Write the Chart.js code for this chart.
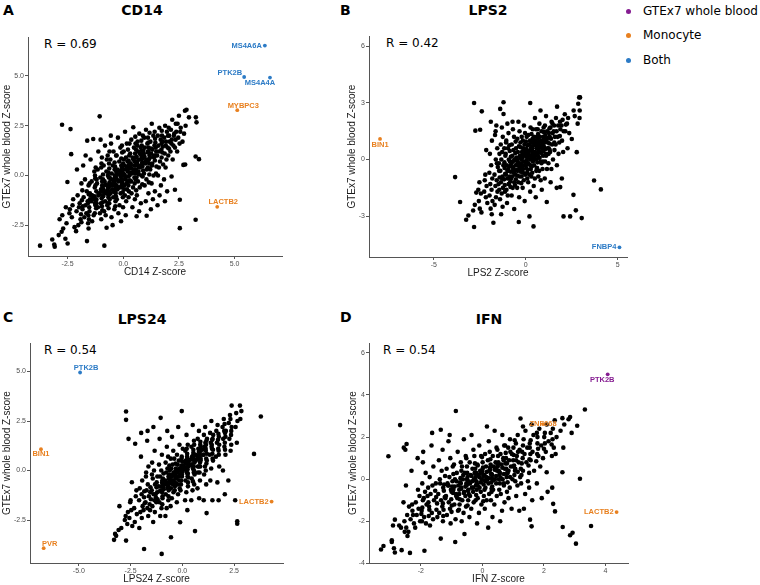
<!DOCTYPE html>
<html>
<head>
<meta charset="utf-8">
<script src="https://cdn.jsdelivr.net/npm/chart.js@4.4.1/dist/chart.umd.min.js"></script>
<style>
body { margin: 0; width: 760px; height: 585px; background: #fff; position: relative; overflow: hidden; }
canvas { position: absolute; }
.txt { position: absolute; white-space: nowrap; line-height: 1; font-family: "DejaVu Sans", sans-serif; color: #000; }
.letter, .title { font-size: 14px; font-weight: bold; }
.title { transform: translateX(-50%); }
.rval, .leg { font-size: 12px; }
.dot { position: absolute; width: 5px; height: 5px; border-radius: 50%; }
</style>
</head>
<body>

<div class="txt letter" style="left:3px;top:3px">A</div>
<div class="txt title" style="left:142px;top:3px">CD14</div>
<div class="txt rval" style="left:44px;top:38px">R = 0.69</div>

<div class="txt letter" style="left:340px;top:3px">B</div>
<div class="txt title" style="left:488px;top:3px">LPS2</div>
<div class="txt rval" style="left:386px;top:37px">R = 0.42</div>

<div class="txt letter" style="left:3px;top:310px">C</div>
<div class="txt title" style="left:142px;top:312px">LPS24</div>
<div class="txt rval" style="left:44px;top:344px">R = 0.54</div>

<div class="txt letter" style="left:340px;top:310px">D</div>
<div class="txt title" style="left:489px;top:312px">IFN</div>
<div class="txt rval" style="left:383px;top:344px">R = 0.54</div>

<div id="legend"></div>

<canvas id="cd14"></canvas>
<canvas id="lps2"></canvas>
<canvas id="lps24"></canvas>
<canvas id="ifn"></canvas>

<script>
// ---- data ----
const groups = ['GTEx7 whole blood', 'Monocyte', 'Both'];

const cd14XTicks = [-2.5, 0, 2.5, 5];
const cd14YTicks = [-2.5, 0, 2.5, 5];
const lps2XTicks = [-5, 0, 5];
const lps2YTicks = [-3, 0, 3, 6];
const lps24XTicks = [-5, -2.5, 0, 2.5];
const lps24YTicks = [-2.5, 0, 2.5, 5];
const ifnXTicks = [-2, 0, 2, 4];
const ifnYTicks = [-4, -2, 0, 2, 4, 6];

const cd14Genes = ['MS4A6A', 'PTK2B', 'MS4A4A', 'MYBPC3', 'LACTB2'];
const cd14GeneX = [6.36, 5.43, 6.59, 5.12, 4.22];
const cd14GeneY = [6.53, 4.95, 4.92, 3.28, -1.58];
const cd14GeneGroup = ['Both', 'Both', 'Both', 'Monocyte', 'Monocyte'];

const lps2Genes = ['BIN1', 'FNBP4'];
const lps2GeneX = [-7.92, 5.09];
const lps2GeneY = [1.09, -4.65];
const lps2GeneGroup = ['Monocyte', 'Both'];

const lps24Genes = ['PTK2B', 'BIN1', 'PVR', 'LACTB2'];
const lps24GeneX = [-4.94, -6.83, -6.7, 4.31];
const lps24GeneY = [4.95, 1.08, -3.92, -1.57];
const lps24GeneGroup = ['Both', 'Monocyte', 'Monocyte', 'Monocyte'];

const ifnGenes = ['PTK2B', 'ZNF668', 'LACTB2'];
const ifnGeneX = [4.07, 1.97, 4.36];
const ifnGeneY = [4.98, 2.62, -1.56];
const ifnGeneGroup = ['GTEx7 whole blood', 'Monocyte', 'Monocyte'];

const cd14Points = [
[-3.74,-3.53],[-3.19,-3.22],[-3.1,-3.47],[-3.08,-3.58],
[-2.77,-2.83],[-2.7,-2.67],[-2.86,-2.2],[-2.74,-2.0],[-2.9,-3.0],
[-2.6,-3.18],[-2.5,-3.42],[-2.55,-2.4],[-2.42,-1.9],[-2.58,-1.6],[-2.51,-0.33],[-2.75,2.55],
[-2.37,2.33],[-2.34,1.07],[-2.25,-1.2],[-2.31,-2.1],[-2.19,-2.6],[-2.4,-1.7],[-2.28,-1.5],
[-2.05,-1.0],[-1.96,-1.4],[-2.1,-1.8],[-1.92,-2.2],[-2.02,-2.5],[-1.88,-0.4],[-2.08,0.3],[-1.99,-1.6],[-2.12,-2.8],
[-1.72,-0.2],[-1.64,-0.8],[-1.78,-1.1],[-1.6,-1.3],[-1.7,-1.5],[-1.83,-1.7],[-1.66,-1.9],[-1.75,-2.1],[-1.58,-2.4],[-1.63,-3.3],[-1.8,0.5],[-1.69,1.0],[-1.62,1.75],[-1.56,-0.5],
[-1.35,1.83],[-1.47,0.8],[-1.3,0.2],[-1.42,-0.3],[-1.28,-0.6],[-1.5,-0.9],[-1.37,-1.1],[-1.44,-1.3],[-1.25,-1.5],[-1.52,-1.8],[-1.33,-2.0],[-1.4,-2.3],[-1.56,-2.67],[-1.27,0.0],[-1.46,-1.0],
[-1.06,2.97],[-1.12,1.2],[-0.98,0.6],[-1.15,0.3],[-1.03,-0.1],[-1.18,-0.4],[-0.96,-0.7],[-1.09,-0.9],[-1.21,-1.2],[-1.0,-1.4],[-1.14,-1.6],[-1.05,-1.9],[-0.99,-2.2],[-1.2,-0.2],[-0.95,-0.5],[-1.11,-1.0],[-1.02,1.8],
[-0.85,-3.53],[-0.75,-2.63],[-0.82,1.5],[-0.7,1.0],[-0.88,0.5],[-0.76,0.2],[-0.69,0.0],[-0.84,-0.3],[-0.73,-0.5],[-0.9,-0.7],[-0.78,-0.9],[-0.67,-1.1],[-0.81,-1.3],[-0.72,-1.5],[-0.86,-1.8],[-0.79,-2.0],[-0.66,-0.6],[-0.91,-0.2],[-0.74,0.8],
[-0.55,1.6],[-0.44,1.2],[-0.58,0.8],[-0.47,0.5],[-0.39,0.3],[-0.52,0.1],[-0.61,-0.1],[-0.42,-0.3],[-0.5,-0.5],[-0.36,-0.7],[-0.57,-0.9],[-0.45,-1.1],[-0.63,-1.4],[-0.4,-1.7],[-0.53,-2.1],[-0.48,-2.5],[-0.38,0.0],[-0.6,-0.4],[-0.43,-0.8],[-0.56,2.0],
[-0.24,1.9],[-0.13,1.4],[-0.3,1.0],[-0.18,0.7],[-0.09,0.5],[-0.27,0.3],[-0.15,0.1],[-0.33,-0.1],[-0.21,-0.3],[-0.08,-0.5],[-0.26,-0.7],[-0.12,-0.9],[-0.29,-1.2],[-0.17,-1.5],[-0.22,-1.9],[-0.1,-2.3],[-0.31,0.2],[-0.06,-0.2],[-0.19,-0.6],
[0.08,2.2],[0.16,1.6],[0.02,1.2],[0.12,0.9],[0.19,0.7],[0.05,0.5],[0.14,0.3],[0.0,0.1],[0.1,-0.1],[0.21,-0.3],[0.04,-0.5],[0.17,-0.7],[0.07,-1.0],[0.13,-1.3],[-0.01,-1.6],[0.11,-2.0],[0.23,0.4],[0.06,0.0],[0.15,-0.4],[0.03,0.8],
[0.45,2.42],[0.36,1.8],[0.48,1.4],[0.31,1.1],[0.42,0.9],[0.53,0.7],[0.34,0.5],[0.46,0.3],[0.39,0.1],[0.5,-0.1],[0.29,-0.3],[0.44,-0.6],[0.37,-0.9],[0.52,-1.2],[0.41,-1.6],[0.6,-2.05],[0.33,0.6],[0.49,0.2],[0.55,-0.2],
[0.72,2.1],[0.64,1.7],[0.78,1.4],[0.67,1.2],[0.81,1.0],[0.7,0.8],[0.62,0.6],[0.75,0.4],[0.68,0.2],[0.83,0.0],[0.66,-0.3],[0.74,-0.6],[0.61,-1.0],[0.79,-1.4],[0.71,-1.8],[0.85,0.9],[0.77,0.5],[0.63,1.5],
[1.02,2.3],[0.94,1.9],[1.08,1.6],[0.97,1.4],[1.12,1.2],[0.91,1.0],[1.05,0.8],[0.99,0.6],[1.1,0.4],[0.93,0.1],[1.04,-0.2],[0.96,-0.5],[1.13,-0.9],[1.01,-1.3],[1.05,-2.03],[0.92,1.1],[1.09,0.7],
[1.28,2.6],[1.35,2.0],[1.22,1.7],[1.4,1.5],[1.31,1.3],[1.25,1.1],[1.38,0.9],[1.3,0.6],[1.21,0.3],[1.36,0.0],[1.27,-0.4],[1.42,-0.8],[1.33,-1.2],[1.24,-1.7],[1.39,1.0],[1.29,0.5],
[1.62,2.4],[1.55,2.0],[1.68,1.8],[1.58,1.5],[1.71,1.3],[1.52,1.0],[1.65,0.7],[1.6,0.4],[1.56,0.0],[1.69,-0.5],[1.63,-1.0],[1.54,-1.5],[1.72,1.6],[1.59,1.2],
[1.88,2.5],[1.96,2.2],[1.84,1.9],[1.92,1.7],[1.99,1.4],[1.86,1.1],[1.94,0.8],[1.9,0.4],[1.83,-0.2],[1.97,-0.8],[1.87,-1.3],[2.01,2.0],[1.91,1.5],
[2.2,2.8],[2.14,2.3],[2.27,2.0],[2.18,1.8],[2.25,1.5],[2.12,1.2],[2.22,0.8],[2.17,-0.05],[2.32,-0.72],[2.29,2.1],[2.16,1.6],
[2.5,3.0],[2.44,2.6],[2.56,2.2],[2.47,1.9],[2.53,1.6],[2.42,1.2],[2.7,0.53],[2.54,-1.22],[2.54,-2.65],[2.58,2.4],
[2.77,3.25],[2.84,3.3],[2.95,2.92],[2.8,2.5],[2.73,2.1],[2.66,1.7],[2.78,0.55],
[3.26,2.92],[3.29,2.67],[3.4,0.82],[3.25,0.95],[3.25,-2.23]
];
// extra points filling the dense core of the CD14 cloud
const cd14CorePoints = [
[-1.86,-1.25],[-1.82,-1.55],[-1.9,-1.95],[-1.84,-0.75],[-1.88,-2.35],
[-1.55,-0.95],[-1.5,-1.2],[-1.59,-1.4],[-1.53,-1.6],[-1.57,-2.0],[-1.51,-0.4],[-1.54,-2.2],
[-1.25,-0.5],[-1.21,-0.8],[-1.29,-1.05],[-1.23,-1.25],[-1.27,-1.4],[-1.22,-1.65],[-1.26,-0.15],[-1.24,0.4],[-1.28,-1.9],
[-0.95,-0.3],[-0.92,-0.55],[-0.98,-0.8],[-0.94,-1.0],[-0.97,-1.15],[-0.93,-1.35],[-0.96,-1.55],[-0.91,0.05],[-0.99,0.4],[-0.94,-1.75],[-0.96,0.9],
[-0.65,-0.1],[-0.62,-0.35],[-0.68,-0.6],[-0.64,-0.8],[-0.66,-1.0],[-0.61,-1.2],[-0.67,0.15],[-0.63,0.35],[-0.69,-1.4],[-0.64,0.6],[-0.66,-1.65],[-0.62,1.2],
[-0.35,0.0],[-0.32,-0.2],[-0.38,-0.4],[-0.34,-0.6],[-0.36,-0.85],[-0.31,0.2],[-0.37,0.45],[-0.33,-1.05],[-0.39,0.65],[-0.35,-1.3],[-0.32,1.0],[-0.36,-1.55],
[-0.05,0.2],[-0.02,0.0],[-0.08,-0.2],[-0.04,-0.4],[-0.06,0.4],[-0.01,0.6],[-0.07,-0.6],[-0.03,-0.85],[-0.09,0.85],[-0.05,1.15],[-0.02,-1.1],[-0.06,1.5],
[0.25,0.35],[0.28,0.15],[0.22,-0.05],[0.26,0.55],[0.24,0.75],[0.29,-0.25],[0.23,-0.5],[0.27,1.0],[0.21,1.3],[0.25,-0.8],[0.28,1.6],[0.24,-1.1],
[0.55,0.5],[0.58,0.3],[0.52,0.7],[0.56,0.9],[0.54,0.1],[0.59,-0.1],[0.53,1.1],[0.57,1.3],[0.51,-0.4],[0.55,1.6],[0.58,-0.75],[0.54,1.95],
[0.85,0.65],[0.88,0.85],[0.82,1.05],[0.86,0.45],[0.84,1.25],[0.89,0.25],[0.83,1.5],[0.87,-0.05],[0.81,1.75],[0.85,-0.45],[0.88,2.0],
[1.15,0.8],[1.18,1.0],[1.12,1.2],[1.16,0.6],[1.14,1.4],[1.19,0.35],[1.13,1.65],[1.17,0.05],[1.11,1.9],[1.15,-0.35],[1.18,2.15],
[1.45,1.0],[1.48,1.2],[1.42,0.75],[1.46,1.4],[1.44,1.65],[1.49,0.45],[1.43,1.85],[1.47,0.1],[1.41,2.2],
[1.75,1.15],[1.78,1.45],[1.72,0.9],[1.76,1.7],[1.74,2.0],[1.79,0.55],[1.73,2.25],
[2.05,1.35],[2.08,1.7],[2.02,1.0],[2.06,2.0],[2.04,2.4],
[2.35,1.8],[2.38,2.2],[2.32,1.4],[2.36,2.6]
];
// the solid black centre of the CD14 cloud
const cd14DensePoints = [
[-1.1,-0.95],[-1.0,-0.7],[-0.9,-1.05],[-0.85,-0.85],[-0.8,-0.45],[-0.72,-0.75],[-0.6,-0.5],[-0.55,-0.2],[-0.5,-0.7],[-0.45,-0.45],
[-0.4,-0.15],[-0.3,-0.5],[-0.28,0.05],[-0.22,-0.25],[-0.15,0.25],[-0.12,-0.05],[-0.05,-0.35],[0.0,0.3],[0.05,0.05],[0.1,-0.2],
[0.15,0.45],[0.2,0.2],[0.28,0.0],[0.32,0.6],[0.36,0.35],[0.4,0.15],[0.45,0.8],[0.5,0.5],[0.55,0.25],[0.6,0.95],
[0.63,0.7],[0.7,0.45],[0.75,1.1],[0.8,0.8],[0.85,0.55],[0.9,1.25],[0.95,0.95],[1.0,0.7],[1.1,1.15],[1.2,0.9],
[1.25,1.35],[-1.3,-1.2],[-1.4,-1.0],[-1.2,-1.4],[-0.65,-0.95],[-0.35,-0.9],[0.05,-0.7],[0.35,-0.3],[0.7,0.05],[1.05,0.3]
];

const lps2Points = [
[-3.84,-0.93],[-3.57,-2.25],[-3.24,-3.19],[-3.12,-2.96],
[-2.81,-3.57],[-2.81,2.99],[-2.74,1.53],[-2.86,-2.7],[-2.77,-2.4],[-2.69,-1.75],
[-2.39,2.55],[-2.48,1.58],[-2.55,-2.2],[-2.44,-1.8],[-2.58,-1.6],[-2.5,-2.6],[-2.41,-2.8],[-2.52,-1.2],
[-2.2,-0.8],[-2.13,-1.4],[-2.26,-1.7],[-2.17,-2.0],[-2.09,-2.3],[-2.23,-1.1],[-2.15,0.5],
[-1.9,2.0],[-1.84,1.0],[-1.95,0.3],[-1.88,-0.3],[-1.98,-0.7],[-1.82,-1.0],[-1.93,-1.3],[-1.86,-1.6],[-1.97,-1.9],[-1.81,-2.2],[-1.91,-2.6],[-1.85,-2.9],
[-1.6,1.8],[-1.67,1.3],[-1.55,0.6],[-1.63,0.0],[-1.52,-0.4],[-1.7,-0.8],[-1.58,-1.1],[-1.65,-1.4],[-1.54,-1.7],[-1.62,-2.0],[-1.69,-2.4],[-1.76,-3.35],[-1.57,-0.2],[-1.64,1.5],
[-1.21,3.03],[-1.39,2.68],[-1.21,2.41],[-1.3,1.7],[-1.25,1.2],[-1.36,0.8],[-1.28,0.4],[-1.33,0.0],[-1.22,-0.3],[-1.38,-0.6],[-1.27,-0.9],[-1.35,-1.2],[-1.24,-1.5],[-1.31,-1.8],[-1.4,-2.1],[-1.26,-2.5],[-1.34,-2.9],[-1.29,-1.0],
[-1.0,1.9],[-0.94,1.4],[-1.06,1.0],[-0.97,0.6],[-1.09,0.3],[-0.92,0.0],[-1.03,-0.3],[-0.96,-0.6],[-1.08,-0.8],[-0.99,-1.0],[-0.93,-1.3],[-1.05,-1.6],[-0.98,-1.9],[-1.02,-2.3],[-0.95,-0.5],[-1.07,0.9],
[-0.7,1.6],[-0.64,1.2],[-0.76,0.8],[-0.67,0.5],[-0.73,0.2],[-0.62,0.0],[-0.78,-0.2],[-0.69,-0.5],[-0.66,-0.7],[-0.75,-0.9],[-0.63,-1.2],[-0.71,-1.5],[-0.77,-1.9],[-0.63,-2.62],[-0.68,-0.4],[-0.72,2.0],
[-0.4,2.0],[-0.34,1.5],[-0.46,1.1],[-0.37,0.7],[-0.43,0.4],[-0.32,0.2],[-0.48,0.0],[-0.39,-0.2],[-0.35,-0.4],[-0.45,-0.6],[-0.33,-0.9],[-0.41,-1.2],[-0.47,-1.5],[-0.36,-2.0],[-0.38,-3.31],[-0.44,-0.1],
[-0.1,1.8],[-0.04,1.4],[-0.16,1.0],[-0.07,0.8],[-0.13,0.5],[-0.02,0.3],[-0.18,0.1],[-0.09,-0.1],[-0.05,-0.3],[-0.15,-0.5],[-0.03,-0.8],[-0.11,-1.1],[-0.17,-1.5],[-0.06,-2.2],[-0.12,0.6],
[0.24,2.99],[0.26,1.7],[0.14,1.3],[0.23,1.0],[0.17,0.8],[0.28,0.6],[0.12,0.4],[0.21,0.2],[0.25,0.0],[0.15,-0.2],[0.27,-0.5],[0.19,-0.8],[0.13,-1.2],[0.24,-1.7],[0.2,-3.01],[0.16,0.3],
[0.5,2.2],[0.56,1.6],[0.44,1.2],[0.53,1.0],[0.47,0.8],[0.58,0.6],[0.42,0.4],[0.51,0.2],[0.55,0.0],[0.45,-0.3],[0.57,-0.6],[0.49,-1.0],[0.43,-1.4],[0.54,-2.0],[0.42,-3.54],[0.46,0.9],
[0.8,2.6],[0.74,1.9],[0.86,1.5],[0.77,1.2],[0.83,1.0],[0.72,0.8],[0.88,0.6],[0.79,0.4],[0.75,0.1],[0.85,-0.2],[0.73,-0.6],[0.81,-1.1],[0.87,-1.6],[0.76,0.7],
[1.1,2.3],[1.04,1.8],[1.16,1.5],[1.07,1.3],[1.13,1.1],[1.02,0.9],[1.18,0.6],[1.09,0.3],[1.05,-0.1],[1.15,-0.5],[1.03,-1.0],[1.14,-2.25],[1.11,1.0],
[1.4,2.0],[1.34,1.7],[1.46,1.4],[1.37,1.1],[1.43,0.8],[1.32,0.4],[1.48,0.0],[1.39,-0.5],[1.35,-1.2],[1.45,1.9],
[1.7,2.8],[1.64,2.2],[1.76,1.8],[1.67,1.5],[1.73,1.2],[1.62,0.8],[1.78,0.3],[1.69,-0.3],[1.68,-1.5],[1.87,-1.46],
[2.0,2.1],[1.94,1.8],[2.06,1.5],[1.97,1.0],[2.03,0.4],[2.05,-3.01],[1.96,-1.0],
[2.3,2.2],[2.24,1.9],[2.36,1.4],[2.27,0.6],[2.41,-3.01],
[2.6,2.6],[2.66,2.3],[2.5,1.09],[2.77,0.39],[2.59,-1.87],[2.72,-2.69],
[2.9,3.29],[2.85,2.95],[2.93,2.6],[2.92,2.2],[2.82,1.9],
[2.95,3.29],[3.04,-3.1],[3.71,-1.11],[4.08,-1.58]
];
const lps2CorePoints = [
[-1.45,-0.6],[-1.42,-0.95],[-1.48,-1.3],[-1.44,-1.6],[-1.46,-0.2],[-1.43,0.3],
[-1.15,-0.45],[-1.12,-0.75],[-1.18,-1.05],[-1.14,-1.35],[-1.16,-0.15],[-1.11,0.2],[-1.17,0.6],[-1.13,-1.7],
[-0.85,-0.35],[-0.82,-0.65],[-0.88,-0.9],[-0.84,-1.15],[-0.86,-0.1],[-0.81,0.15],[-0.87,0.45],[-0.83,-1.45],[-0.89,0.75],
[-0.55,-0.3],[-0.52,-0.55],[-0.58,-0.8],[-0.54,-1.05],[-0.56,-0.05],[-0.51,0.1],[-0.57,0.35],[-0.53,0.6],[-0.59,-1.35],[-0.55,0.95],
[-0.25,-0.2],[-0.22,-0.45],[-0.28,-0.65],[-0.24,0.0],[-0.26,0.2],[-0.21,0.4],[-0.27,0.65],[-0.23,-0.9],[-0.29,0.9],[-0.25,-1.25],[-0.22,1.2],
[0.05,-0.05],[0.08,-0.25],[0.02,0.15],[0.06,0.35],[0.04,0.55],[0.09,0.75],[0.03,-0.45],[0.07,-0.7],[0.01,0.95],[0.05,1.2],[0.08,-1.0],
[0.35,0.1],[0.38,0.3],[0.32,0.5],[0.36,0.7],[0.34,0.9],[0.39,-0.1],[0.33,-0.35],[0.37,1.1],[0.31,1.35],[0.35,-0.7],[0.38,1.6],
[0.65,0.3],[0.68,0.5],[0.62,0.7],[0.66,0.9],[0.64,1.1],[0.69,0.1],[0.63,-0.15],[0.67,1.35],[0.61,-0.45],[0.65,1.6],[0.68,-0.9],
[0.95,0.45],[0.98,0.7],[0.92,0.95],[0.96,1.2],[0.94,0.2],[0.99,1.45],[0.93,-0.1],[0.97,1.7],[0.91,-0.5],
[1.25,0.6],[1.28,0.85],[1.22,1.15],[1.26,1.4],[1.24,0.3],[1.29,1.65],[1.23,-0.2],
[1.55,0.9],[1.58,1.2],[1.52,1.5],[1.56,0.5],[1.54,1.8],
[1.85,1.25],[1.88,1.6],[1.82,0.9],[1.86,2.0],
[2.15,1.5],[2.18,1.85],[2.12,2.4]
];
const lps2DensePoints = [
[-0.6,-0.6],[-0.5,-0.3],[-0.45,-0.85],[-0.35,-0.5],[-0.3,0.1],[-0.2,-0.3],[-0.15,-0.7],[-0.1,0.25],[0.0,-0.15],[0.0,0.5],
[0.1,0.1],[0.1,-0.55],[0.2,0.45],[0.2,0.8],[0.25,-0.3],[0.3,0.2],[0.35,0.6],[0.4,1.0],[0.45,0.05],[0.5,0.4],
[0.55,0.75],[0.6,1.2],[0.65,0.2],[0.7,0.6],[0.75,0.95],[0.8,-0.1],[0.85,0.35],[0.9,0.8],[1.0,1.1],[1.05,0.55],
[1.1,0.2],[1.2,0.9],[1.3,1.2],[-0.8,-1.0],[-0.7,-0.1],[-1.0,-0.6],[-0.9,-1.3],[0.3,-0.9],[0.6,-0.45],[1.3,0.5]
];

const lps24Points = [
[-3.3,-3.5],[-3.2,-3.3],[-3.25,-3.2],
[-3.04,-1.8],[-2.95,-2.9],[-3.08,-3.0],
[-2.72,-3.54],[-2.72,2.98],[-2.72,2.56],[-2.78,-2.5],[-2.66,-2.7],[-2.74,-2.3],[-2.63,-2.1],
[-2.6,1.6],[-2.44,-0.59],[-2.52,-1.6],[-2.47,-2.0],[-2.56,-2.4],[-2.42,-2.8],[-2.5,-1.5],
[-2.28,1.35],[-2.25,-1.3],[-2.33,-1.9],[-2.2,-2.2],[-2.3,-2.6],[-2.22,-1.0],
[-2.0,0.7],[-1.94,-0.5],[-2.06,-0.9],[-1.97,-1.2],[-2.09,-1.5],[-1.92,-1.8],[-2.03,-2.1],[-1.96,-2.4],[-2.08,-2.9],[-1.99,1.9],
[-1.85,-3.96],
[-1.7,1.5],[-1.64,0.2],[-1.76,-0.3],[-1.67,-0.7],[-1.73,-1.0],[-1.62,-1.3],[-1.78,-1.6],[-1.69,-1.9],[-1.65,-2.3],[-1.75,-0.1],[-1.68,2.0],
[-1.4,2.2],[-1.34,1.0],[-1.46,0.4],[-1.37,0.0],[-1.43,-0.4],[-1.32,-0.7],[-1.48,-1.0],[-1.39,-1.2],[-1.35,-1.5],[-1.45,-1.8],[-1.33,-2.1],[-1.41,-2.6],[-1.47,-0.2],
[-1.05,2.66],[-1.1,1.6],[-0.99,0.8],[-1.13,0.3],[-1.02,0.0],[-1.08,-0.3],[-0.97,-0.5],[-1.15,-0.8],[-1.04,-1.0],[-0.96,-1.3],[-1.11,-1.6],[-1.01,-1.9],[-1.07,-2.3],[-0.98,-0.6],
[-1.0,-4.21],
[-0.75,1.2],[-0.69,0.7],[-0.81,0.4],[-0.72,0.1],[-0.78,-0.1],[-0.67,-0.3],[-0.83,-0.5],[-0.74,-0.7],[-0.7,-0.9],[-0.8,-1.2],[-0.68,-1.5],[-0.76,-1.9],[-0.82,-2.3],[-0.73,2.0],
[-0.5,1.7],[-0.44,1.0],[-0.56,0.6],[-0.47,0.3],[-0.53,0.1],[-0.42,-0.1],[-0.58,-0.3],[-0.49,-0.5],[-0.45,-0.7],[-0.55,-0.9],[-0.43,-1.1],[-0.51,-1.4],[-0.57,-1.8],[-0.55,-3.37],[-0.46,-0.2],
[-0.2,2.2],[-0.14,1.3],[-0.26,0.8],[-0.17,0.5],[-0.23,0.3],[-0.12,0.1],[-0.28,-0.1],[-0.19,-0.3],[-0.15,-0.5],[-0.25,-0.7],[-0.13,-0.9],[-0.21,-1.2],[-0.27,-1.6],[-0.11,-2.61],[-0.18,0.0],
[-0.03,3.0],[0.02,1.1],[-0.04,0.6],[0.03,0.2],[-0.02,-0.2],
[0.2,1.8],[0.26,1.3],[0.14,1.0],[0.23,0.7],[0.17,0.5],[0.28,0.3],[0.12,0.1],[0.21,-0.1],[0.25,-0.3],[0.15,-0.5],[0.27,-0.8],[0.19,-1.1],[0.13,-1.5],[0.24,-2.0],[0.18,0.4],
[0.5,2.3],[0.56,1.5],[0.44,1.2],[0.53,0.9],[0.47,0.7],[0.58,0.5],[0.42,0.3],[0.51,0.1],[0.55,-0.1],[0.45,-0.4],[0.57,-0.7],[0.49,-1.0],[0.43,-1.5],[0.61,-3.06],[0.46,0.6],
[0.8,2.0],[0.74,1.6],[0.86,1.3],[0.77,1.1],[0.83,0.9],[0.72,0.7],[0.88,0.5],[0.79,0.2],[0.75,-0.1],[0.85,-0.5],[0.73,-0.9],[0.81,-1.4],[0.87,1.0],
[1.1,2.2],[1.04,1.8],[1.16,1.5],[1.07,1.2],[1.13,1.0],[1.02,0.8],[1.18,0.5],[1.09,0.2],[1.05,-0.2],[1.15,-0.7],[1.03,-1.5],[1.17,-2.15],[1.11,1.4],
[1.4,2.5],[1.34,1.9],[1.46,1.6],[1.37,1.4],[1.43,1.1],[1.32,0.8],[1.48,0.5],[1.39,0.1],[1.35,-0.5],[1.45,-1.5],[1.41,1.2],
[1.7,2.3],[1.64,2.0],[1.76,1.7],[1.67,1.4],[1.73,1.1],[1.62,0.7],[1.78,0.2],[1.69,-0.6],[1.75,-1.5],
[2.0,2.6],[1.94,2.2],[2.06,1.9],[1.97,1.6],[2.03,1.2],[2.08,0.8],[1.96,0.0],[2.05,-1.2],[2.1,2.0],
[2.38,3.28],[2.3,2.8],[2.24,2.4],[2.36,2.0],[2.27,1.6],[2.33,1.0],[2.22,-0.5],
[2.78,3.28],[2.6,2.9],[2.66,2.5],[2.57,2.2],[2.63,1.4],[2.65,-2.56],[2.65,-2.69],[2.55,-1.5],
[2.85,3.0],[2.8,2.6],[3.46,0.84],[3.79,2.73]
];
const lps24CorePoints = [
[-1.85,-1.35],[-1.82,-1.65],[-1.88,-2.0],[-1.84,-1.05],
[-1.55,-1.1],[-1.52,-1.45],[-1.58,-1.7],[-1.54,-0.85],[-1.56,-2.0],
[-1.25,-0.85],[-1.22,-1.1],[-1.28,-1.35],[-1.24,-0.6],[-1.26,-1.6],[-1.21,-0.3],
[-0.95,-0.65],[-0.92,-0.85],[-0.98,-1.1],[-0.94,-0.4],[-0.96,-1.4],[-0.91,-0.15],[-0.97,-1.7],
[-0.65,-0.4],[-0.62,-0.6],[-0.68,-0.8],[-0.64,-0.2],[-0.66,-1.0],[-0.61,0.0],[-0.67,-1.3],[-0.63,0.25],
[-0.35,-0.25],[-0.32,-0.4],[-0.38,-0.6],[-0.34,-0.05],[-0.36,-0.8],[-0.31,0.1],[-0.37,-1.0],[-0.33,0.35],[-0.39,0.6],
[-0.05,-0.1],[-0.02,-0.3],[-0.08,0.05],[-0.04,0.25],[-0.06,-0.5],[-0.01,0.45],[-0.07,-0.7],[-0.03,0.7],[-0.09,-1.0],
[0.25,0.05],[0.28,0.2],[0.22,0.4],[0.26,-0.15],[0.24,0.6],[0.29,-0.35],[0.23,0.85],[0.27,-0.6],[0.21,1.1],
[0.55,0.2],[0.58,0.4],[0.52,0.6],[0.56,0.0],[0.54,0.8],[0.59,-0.2],[0.53,1.05],[0.57,1.3],[0.51,-0.55],
[0.85,0.4],[0.88,0.6],[0.82,0.8],[0.86,0.2],[0.84,1.0],[0.89,1.2],[0.83,-0.1],[0.87,1.45],
[1.15,0.6],[1.18,0.85],[1.12,1.1],[1.16,0.35],[1.14,1.3],[1.19,1.6],[1.13,0.0],
[1.45,0.85],[1.48,1.05],[1.42,1.3],[1.46,0.6],[1.44,1.55],[1.49,1.8],
[1.75,1.0],[1.78,1.3],[1.72,1.55],[1.76,0.8],[1.74,1.85],
[2.05,1.4],[2.08,1.7],[2.02,2.0],[2.06,1.05],[2.04,2.35],
[2.35,1.8],[2.38,2.2],[2.32,2.6],[2.36,1.3]
];
const lps24DensePoints = [
[-1.1,-1.05],[-1.0,-0.8],[-0.9,-0.95],[-0.85,-0.7],[-0.75,-0.6],[-0.7,-0.85],[-0.6,-0.45],[-0.55,-0.65],[-0.5,-0.3],[-0.45,-0.5],
[-0.4,-0.2],[-0.3,-0.4],[-0.25,-0.1],[-0.2,-0.3],[-0.15,0.05],[-0.1,-0.2],[-0.05,0.15],[0.0,-0.05],[0.05,0.25],[0.1,0.05],
[0.15,0.35],[0.2,0.15],[0.3,0.45],[0.35,0.25],[0.4,0.55],[0.45,0.3],[0.5,0.7],[0.6,0.45],[0.65,0.8],[0.7,0.55],
[0.8,0.95],[0.85,0.65],[0.95,1.05],[1.0,0.8],[1.1,1.15],[-1.3,-1.2],[-1.2,-1.45],[-0.3,-0.65],[0.25,-0.15],[0.75,0.2]
];

const ifnPoints = [
[-3.29,-3.34],[-3.21,-3.17],[-3.05,1.09],
[-2.94,-2.9],[-2.94,-2.98],[-2.87,-3.28],[-2.84,-3.48],[-2.84,-1.92],[-2.9,-2.2],
[-2.67,2.57],[-2.7,-2.2],[-2.64,-2.3],[-2.62,-3.37],
[-2.46,1.67],[-2.55,1.5],[-2.5,1.4],[-2.44,-1.7],[-2.53,-2.0],[-2.47,-2.3],[-2.52,-2.5],[-2.43,-2.7],[-2.56,-1.1],[-2.48,-0.3],
[-2.35,-3.5],[-2.3,0.4],[-2.38,-1.3],[-2.27,-1.5],[-2.33,-1.9],[-2.4,-2.5],
[-2.1,1.0],[-2.04,-0.8],[-2.16,-1.1],[-2.07,-1.4],[-2.13,-1.7],[-2.02,-2.0],[-2.18,-2.3],[-2.09,-0.5],
[-1.88,-3.4],[-1.92,1.3],[-1.84,0.3],[-1.95,-0.2],[-1.86,-0.6],[-1.9,-0.9],[-1.81,-1.2],[-1.97,-1.5],[-1.89,-1.8],[-1.83,-2.1],[-1.93,0.8],
[-1.65,1.6],[-1.59,0.6],[-1.71,0.1],[-1.62,-0.3],[-1.68,-0.7],[-1.57,-1.0],[-1.73,-1.3],[-1.64,-1.6],[-1.6,-1.9],[-1.7,-2.2],[-1.63,2.2],
[-1.35,2.35],[-1.29,1.4],[-1.41,0.9],[-1.32,0.4],[-1.38,0.0],[-1.27,-0.4],[-1.43,-0.7],[-1.34,-1.0],[-1.3,-1.3],[-1.4,-1.6],[-1.28,-2.0],[-1.35,-2.82],[-1.37,-0.2],
[-1.1,1.8],[-1.04,1.0],[-1.16,0.5],[-1.07,0.1],[-1.13,-0.2],[-1.02,-0.5],[-1.18,-0.8],[-1.09,-1.1],[-1.05,-1.4],[-1.15,-1.7],[-1.03,-2.1],[-1.11,-0.3],[-1.06,2.1],
[-0.86,3.24],[-0.8,1.3],[-0.92,0.7],[-0.83,0.3],[-0.89,0.0],[-0.78,-0.3],[-0.94,-0.5],[-0.85,-0.7],[-0.81,-0.9],[-0.91,-1.2],[-0.79,-1.5],[-0.87,-1.9],[-0.88,-2.98],[-0.84,-0.1],
[-0.6,1.9],[-0.54,1.1],[-0.66,0.6],[-0.57,0.3],[-0.63,0.0],[-0.52,-0.2],[-0.68,-0.4],[-0.59,-0.6],[-0.55,-0.8],[-0.65,-1.0],[-0.53,-1.3],[-0.61,-1.6],[-0.67,-2.0],[-0.58,-2.6],[-0.62,0.2],
[-0.35,2.1],[-0.29,1.4],[-0.41,0.8],[-0.32,0.5],[-0.38,0.2],[-0.27,0.0],[-0.43,-0.2],[-0.34,-0.4],[-0.3,-0.6],[-0.4,-0.8],[-0.28,-1.1],[-0.36,-1.4],[-0.42,-1.8],[-0.33,-0.1],
[-0.1,1.6],[-0.04,1.1],[-0.16,0.7],[-0.07,0.4],[-0.13,0.2],[-0.02,0.0],[-0.18,-0.2],[-0.09,-0.4],[-0.05,-0.6],[-0.15,-0.9],[-0.03,-1.2],[-0.11,-1.6],[-0.17,-2.1],[-0.06,0.3],
[0.15,2.5],[0.21,1.8],[0.09,1.2],[0.18,0.9],[0.12,0.6],[0.23,0.4],[0.07,0.2],[0.16,0.0],[0.2,-0.2],[0.1,-0.4],[0.22,-0.7],[0.14,-1.0],[0.08,-1.4],[0.19,-2.3],[0.13,0.1],
[0.4,2.3],[0.46,1.5],[0.34,1.1],[0.43,0.8],[0.37,0.6],[0.48,0.4],[0.32,0.2],[0.41,0.0],[0.45,-0.2],[0.35,-0.5],[0.47,-0.8],[0.39,-1.2],[0.33,-1.8],[0.44,0.5],
[0.65,2.1],[0.71,1.6],[0.59,1.2],[0.68,1.0],[0.62,0.7],[0.73,0.5],[0.57,0.3],[0.66,0.0],[0.7,-0.3],[0.6,-0.7],[0.72,-1.1],[0.64,-1.5],[0.58,-2.0],[0.69,0.9],
[0.9,1.9],[0.84,1.5],[0.96,1.2],[0.87,0.9],[0.93,0.6],[0.82,0.3],[0.98,0.0],[0.89,-0.4],[0.85,-0.9],[0.95,-1.4],[0.91,1.3],
[1.15,2.1],[1.09,1.7],[1.21,1.4],[1.12,1.1],[1.18,0.8],[1.07,0.5],[1.23,0.1],[1.14,-0.3],[1.1,-0.8],[1.2,-1.5],[1.16,1.3],
[1.24,2.88],[1.32,2.5],
[1.4,2.3],[1.34,1.9],[1.46,1.5],[1.37,1.2],[1.43,0.8],[1.32,0.4],[1.48,-0.1],[1.39,-0.7],[1.35,-1.4],
[1.6,2.6],[1.66,2.1],[1.54,1.7],[1.63,1.3],[1.57,0.9],[1.68,0.4],[1.52,-0.4],[1.55,-1.92],[1.6,-2.24],[1.62,-1.0],
[1.85,2.4],[1.79,2.0],[1.91,1.6],[1.82,1.1],[1.88,0.6],[1.77,-0.2],[1.93,-0.9],
[2.09,2.6],[2.03,2.2],[2.15,1.8],[2.06,1.3],[2.09,0.33],[2.12,-0.6],
[2.35,2.8],[2.29,2.4],[2.41,2.0],[2.32,1.5],[2.38,1.2],[2.3,-1.17],[2.36,-1.53],[2.27,-0.4],
[2.6,2.9],[2.66,2.6],[2.54,2.3],[2.63,1.5],[2.6,0.33],[2.61,-2.27],
[2.85,2.95],[2.8,2.85],[2.9,2.2],[2.85,-2.66],[2.93,-2.54],
[3.08,2.54],[3.04,-3.06],[3.17,0.02],[3.33,3.31],[3.53,-2.22]
];
const ifnCorePoints = [
[-2.25,-1.7],[-2.22,-2.1],[-2.28,-1.2],
[-1.95,-1.35],[-1.98,-1.65],[-1.93,-1.0],[-1.96,-2.0],
[-1.75,-1.1],[-1.72,-1.45],[-1.78,-0.8],[-1.74,-1.75],[-1.76,-0.4],
[-1.5,-0.85],[-1.47,-1.15],[-1.53,-0.55],[-1.49,-1.45],[-1.51,-0.2],[-1.46,-1.8],
[-1.25,-0.55],[-1.22,-0.85],[-1.28,-1.15],[-1.24,-0.25],[-1.26,-1.45],[-1.21,0.15],[-1.27,-1.75],
[-0.98,-0.35],[-0.95,-0.65],[-1.01,-0.95],[-0.97,-0.1],[-0.99,-1.25],[-0.94,0.25],[-1.0,-1.55],[-0.96,0.6],
[-0.72,-0.15],[-0.69,-0.45],[-0.75,-0.7],[-0.71,0.05],[-0.73,-0.95],[-0.68,0.4],[-0.74,-1.2],[-0.7,0.8],[-0.76,-1.45],
[-0.48,0.1],[-0.45,-0.1],[-0.51,-0.3],[-0.47,-0.55],[-0.49,0.3],[-0.44,-0.7],[-0.5,0.6],[-0.46,-1.0],[-0.52,1.0],[-0.48,-1.25],
[-0.22,0.1],[-0.19,-0.1],[-0.25,0.3],[-0.21,-0.3],[-0.23,0.5],[-0.18,-0.5],[-0.24,0.75],[-0.2,-0.75],[-0.26,1.1],[-0.22,-1.0],
[0.03,0.15],[0.06,-0.05],[0.0,0.35],[0.04,-0.25],[0.02,0.55],[0.07,-0.5],[0.01,0.8],[0.05,-0.8],[-0.01,1.05],[0.03,-1.05],
[0.28,0.25],[0.31,0.05],[0.25,0.45],[0.29,-0.15],[0.27,0.7],[0.32,-0.35],[0.26,0.95],[0.3,-0.6],[0.24,1.3],[0.28,-1.0],
[0.53,0.4],[0.56,0.2],[0.5,0.6],[0.54,0.0],[0.52,0.8],[0.57,-0.2],[0.51,1.1],[0.55,-0.5],[0.49,1.4],
[0.78,0.5],[0.81,0.3],[0.75,0.75],[0.79,0.1],[0.77,1.0],[0.82,-0.15],[0.76,1.25],[0.8,-0.6],[0.74,1.6],
[1.03,0.65],[1.06,0.4],[1.0,0.9],[1.04,0.2],[1.02,1.15],[1.07,-0.1],[1.01,1.5],[1.05,1.85],
[1.28,0.75],[1.31,1.0],[1.25,0.5],[1.29,1.3],[1.27,0.2],[1.32,1.6],[1.26,-0.2],
[1.53,0.95],[1.56,1.2],[1.5,0.65],[1.54,1.5],[1.52,0.3],[1.57,1.85],
[1.78,1.2],[1.81,1.45],[1.75,0.85],[1.79,1.7],[1.77,2.2],
[2.0,1.45],[2.03,1.7],[1.97,1.0],[2.01,2.0],
[2.25,1.65],[2.28,1.9],[2.22,2.2],[2.26,1.1]
];
const ifnDensePoints = [
[-1.0,-0.6],[-0.9,-0.35],[-0.85,-0.8],[-0.75,-0.5],[-0.7,-0.2],[-0.6,-0.65],[-0.55,-0.35],[-0.5,0.0],[-0.45,-0.5],[-0.4,-0.2],
[-0.35,0.15],[-0.3,-0.4],[-0.25,-0.05],[-0.2,0.3],[-0.15,-0.3],[-0.1,0.1],[-0.05,-0.15],[0.0,0.45],[0.05,0.2],[0.1,-0.1],
[0.15,0.35],[0.2,0.05],[0.25,0.55],[0.3,0.25],[0.35,-0.05],[0.4,0.45],[0.45,0.15],[0.5,0.7],[0.55,0.35],[0.6,0.05],
[0.65,0.55],[0.7,0.25],[0.8,0.75],[0.85,0.4],[0.9,0.1],[1.0,0.6],[1.1,0.9],[1.15,0.35],[-1.2,-0.9],[-1.1,-0.3],
[0.3,-0.45],[0.7,-0.2],[-0.15,0.65]
];

// ---- styling / layout ----
const groupColors = {
  'GTEx7 whole blood': '#851c91',
  'Monocyte': '#e8801f',
  'Both': '#2c7bc6'
};

// label anchor relative to its point: [textAlign, dx, dy]
const cd14LabelPlace = [['right', -3, 0], ['right', -2, -4.5], ['center', -10, 5], ['center', 6, -4], ['center', 6, -4.7]];
const lps2LabelPlace = [['center', 0, 6], ['right', -3, 0]];
const lps24LabelPlace = [['center', 6, -4.7], ['center', 0, 5], ['center', 6, -4], ['right', -3, 0]];
const ifnLabelPlace = [['center', -5.5, 5.7], ['center', 0, 0], ['right', -3, 0]];

const panels = [
  { id: 'cd14', pts: cd14Points.concat(cd14CorePoints, cd14DensePoints), genes: cd14Genes, gx: cd14GeneX, gy: cd14GeneY, gg: cd14GeneGroup, place: cd14LabelPlace,
    plot: { l: 28, r: 282, t: 36, b: 256 }, yW: 28,
    x: [-4.28, 7.13], y: [-4.05, 6.95], xt: cd14XTicks, yt: cd14YTicks, dec: 1, xTitle: 'CD14 Z-score' },
  { id: 'lps2', pts: lps2Points.concat(lps2CorePoints, lps2DensePoints), genes: lps2Genes, gx: lps2GeneX, gy: lps2GeneY, gg: lps2GeneGroup, place: lps2LabelPlace,
    plot: { l: 369, r: 627, t: 35, b: 257 }, yW: 24,
    x: [-8.52, 5.5], y: [-5.16, 6.53], xt: lps2XTicks, yt: lps2YTicks, dec: 0, xTitle: 'LPS2 Z-score' },
  { id: 'lps24', pts: lps24Points.concat(lps24CorePoints, lps24DensePoints), genes: lps24Genes, gx: lps24GeneX, gy: lps24GeneY, gg: lps24GeneGroup, place: lps24LabelPlace,
    plot: { l: 30, r: 283, t: 342, b: 563 }, yW: 30,
    x: [-7.36, 4.86], y: [-4.67, 6.43], xt: lps24XTicks, yt: lps24YTicks, dec: 1, xTitle: 'LPS24 Z-score' },
  { id: 'ifn', pts: ifnPoints.concat(ifnCorePoints, ifnDensePoints), genes: ifnGenes, gx: ifnGeneX, gy: ifnGeneY, gg: ifnGeneGroup, place: ifnLabelPlace,
    plot: { l: 369, r: 628, t: 342, b: 563 }, yW: 23,
    x: [-3.68, 4.73], y: [-3.98, 6.46], xt: ifnXTicks, yt: ifnYTicks, dec: 0, xTitle: 'IFN Z-score' }
];

const padTop = 4, padRight = 8, xH = 24;
const axisColor = '#555';
const tickFont = { family: '"Liberation Sans", Arial, sans-serif', size: 7 };
const titleFont = { family: '"Liberation Sans", Arial, sans-serif', size: 10 };

// legend
const legend = document.getElementById('legend');
groups.forEach((g, i) => {
  const cy = [11.7, 35, 60.7][i];
  const d = document.createElement('span');
  d.className = 'dot';
  d.style.left = (628.3 - 2.5) + 'px';
  d.style.top = (cy - 2.5) + 'px';
  d.style.background = groupColors[g];
  legend.appendChild(d);
  const t = document.createElement('div');
  t.className = 'txt leg';
  t.style.left = '643px';
  t.style.top = (cy - 6.3) + 'px';
  t.textContent = g;
  legend.appendChild(t);
});

const geneLabels = {
  id: 'geneLabels',
  afterDatasetsDraw(chart, args, o) {
    const { ctx, scales: { x, y } } = chart;
    ctx.save();
    ctx.font = 'bold 7.5px "Liberation Sans", Arial, sans-serif';
    ctx.textBaseline = 'middle';
    o.names.forEach((name, i) => {
      const px = x.getPixelForValue(o.xs[i]);
      const py = y.getPixelForValue(o.ys[i]);
      const [align, dx, dy] = o.place[i];
      ctx.textAlign = align;
      ctx.fillStyle = groupColors[o.groups[i]];
      ctx.fillText(name, px + dx, py + dy);
    });
    ctx.restore();
  }
};

function axis(range, ticks, dec, width, height, title, isY) {
  return {
    type: 'linear',
    position: isY ? 'left' : 'bottom',
    min: range[0],
    max: range[1],
    afterBuildTicks: s => { s.ticks = ticks.map(v => ({ value: v })); },
    afterFit: s => { if (isY) s.width = width; else s.height = height; },
    grid: { drawOnChartArea: false, drawTicks: true, tickLength: 3, color: axisColor, lineWidth: 1 },
    border: { display: true, color: axisColor, width: 1 },
    ticks: {
      font: tickFont, color: '#4d4d4d', padding: 1, maxRotation: 0, autoSkip: false,
      callback: v => v.toFixed(dec)
    },
    title: {
      display: true, text: title, font: titleFont, color: '#1a1a1a',
      padding: isY ? { top: 1, bottom: 0 } : { top: 0, bottom: 2 }
    }
  };
}

panels.forEach(p => {
  const cv = document.getElementById(p.id);
  const w = p.yW + (p.plot.r - p.plot.l) + padRight;
  const h = padTop + (p.plot.b - p.plot.t) + xH;
  cv.width = w; cv.height = h;
  cv.style.left = (p.plot.l - p.yW) + 'px';
  cv.style.top = (p.plot.t - padTop) + 'px';
  cv.style.width = w + 'px';
  cv.style.height = h + 'px';

  new Chart(cv, {
    type: 'scatter',
    data: {
      datasets: [
        {
          data: p.pts.map(([x, y]) => ({ x, y })),
          backgroundColor: '#000',
          borderWidth: 0,
          pointRadius: 2.3,
          clip: false
        },
        {
          data: p.genes.map((g, i) => ({ x: p.gx[i], y: p.gy[i] })),
          backgroundColor: p.gg.map(g => groupColors[g]),
          borderWidth: 0,
          pointRadius: 1.9,
          clip: false
        }
      ]
    },
    options: {
      responsive: false,
      animation: false,
      devicePixelRatio: 1,
      layout: { padding: { top: padTop, right: padRight, left: 0, bottom: 0 } },
      scales: {
        x: axis(p.x, p.xt, p.dec, 0, xH, p.xTitle, false),
        y: axis(p.y, p.yt, p.dec, p.yW, 0, 'GTEx7 whole blood Z-score', true)
      },
      plugins: {
        legend: { display: false },
        tooltip: { enabled: false },
        geneLabels: { names: p.genes, xs: p.gx, ys: p.gy, groups: p.gg, place: p.place }
      }
    },
    plugins: [geneLabels]
  });
});
</script>
</body>
</html>
